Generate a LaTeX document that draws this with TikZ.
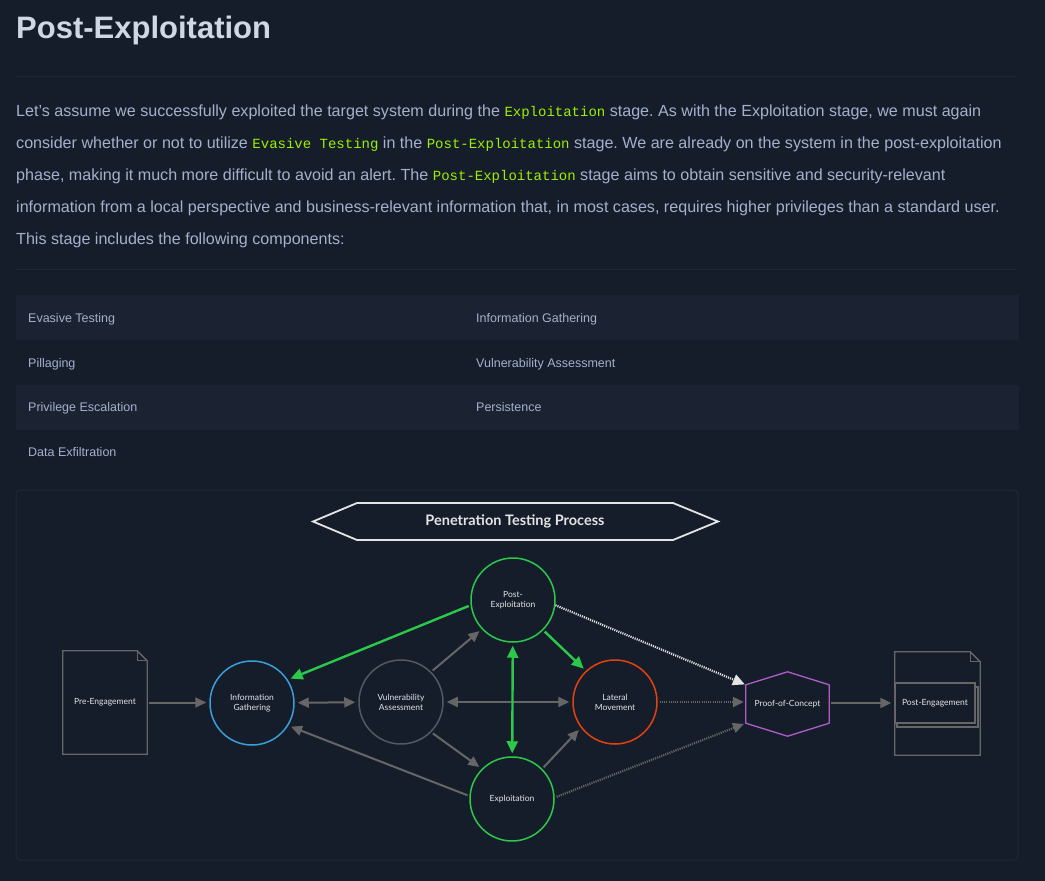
\documentclass[tikz,border=0pt]{standalone}
\usepackage{fontspec}
\setmainfont{Liberation Sans}
\newfontfamily\monof{Liberation Mono}
\newfontfamily\dgf{Lato}
\usetikzlibrary{arrows.meta,calc}
\definecolor{bg}{HTML}{151D2B}
\definecolor{rowbg}{HTML}{1B2332}
\definecolor{rulec}{HTML}{1F2838}
\definecolor{txt}{HTML}{A4B1CD}
\definecolor{ttl}{HTML}{D0D7E4}
\definecolor{codeg}{HTML}{9FEF00}
\definecolor{grn}{HTML}{2BC84A}
\definecolor{blu}{HTML}{3A9FD6}
\definecolor{gry}{HTML}{666666}
\definecolor{gryc}{HTML}{55595F}
\definecolor{org}{HTML}{E2420F}
\definecolor{pur}{HTML}{B25CC9}
\definecolor{wht}{HTML}{E4E4E4}
\newcommand{\cd}[1]{{\monof\fontsize{14}{18}\selectfont\color{codeg}#1}}
\frenchspacing
\begin{document}
\begin{tikzpicture}[x=1pt,y=-1pt,
  par/.style={anchor=base west,inner sep=0,text=txt,font=\fontsize{16.1}{18}\selectfont},
  cell/.style={anchor=base west,inner sep=0,text=txt,font=\fontsize{12.5}{15}\selectfont},
  lab/.style={text=wht,font=\dgf\fontsize{8.5}{10}\selectfont,align=center,inner sep=0},
  circ/.style={lab,circle,draw,line width=1.5pt,minimum size=84pt},
  ga/.style={draw=gry,line width=2pt,-{Triangle[length=11pt,width=10pt]},shorten >=3pt,shorten <=2pt},
  gaa/.style={draw=gry,line width=2pt,{Triangle[length=11pt,width=10pt]}-{Triangle[length=11pt,width=10pt]},shorten >=3pt,shorten <=3pt},
  gn/.style={draw=grn,line width=2.4pt,-{Triangle[length=12pt,width=11pt]},shorten >=3pt,shorten <=2pt},
  gnn/.style={draw=grn,line width=2.4pt,{Triangle[length=12pt,width=11pt]}-{Triangle[length=12pt,width=11pt]},shorten >=3pt,shorten <=3pt},
  wd/.style={draw=wht,line width=2.2pt,dash pattern=on 1.1pt off 1.1pt,-{Triangle[length=12pt,width=11pt]},shorten >=1pt},
  gd/.style={draw=gry,line width=2.2pt,dash pattern=on 1.1pt off 1.1pt,-{Triangle[length=11pt,width=10pt]},shorten >=2pt,shorten <=2pt},
  docline/.style={draw=gry,line width=1.3pt}
]
\fill[bg] (0,0) rectangle (1045,881);
\useasboundingbox (0,0) rectangle (1045,881);

% title
\node[anchor=base west,inner sep=0,text=ttl,font=\bfseries\fontsize{31}{36}\selectfont] (title) at (16,38) {Post-Exploitation};
\draw[rulec,line width=1pt] (16,76) -- (1017,76);

% paragraph
\node[par] (l1) at (16,116) {Let's assume we successfully exploited the target system during the \cd{Exploitation} stage. As with the Exploitation stage, we must again};
\node[par] (l2) at (16,148) {consider whether or not to utilize \cd{Evasive Testing} in the \cd{Post-Exploitation} stage. We are already on the system in the post-exploitation};
\node[par] (l3) at (16,180) {phase, making it much more difficult to avoid an alert. The \cd{Post-Exploitation} stage aims to obtain sensitive and security-relevant};
\node[par] (l4) at (16,212) {information from a local perspective and business-relevant information that, in most cases, requires higher privileges than a standard user.};
\node[par] (l5) at (16,244) {This stage includes the following components:};
\draw[rulec,line width=1pt] (16,269) -- (1017,269);

% table
\fill[rowbg] (16,295) rectangle (1019,340);
\fill[rowbg] (16,385) rectangle (1019,430);
\node[cell] (c11) at (28,322.5) {Evasive Testing};
\node[cell] (c12) at (476,322.5) {Information Gathering};
\node[cell] (c21) at (28,367.5) {Pillaging};
\node[cell] (c22) at (476,367.5) {Vulnerability Assessment};
\node[cell] (c31) at (28,411.5) {Privilege Escalation};
\node[cell] (c32) at (476,411.5) {Persistence};
\node[cell] (c41) at (28,456.5) {Data Exfiltration};

% diagram frame
\draw[rulec,line width=1pt,rounded corners=4pt] (16,490) rectangle (1018,860);

% banner
\draw[wht,line width=1.8pt,line join=miter] (313,521.5) -- (357,503) -- (673,503) -- (718,521.5) -- (673,540) -- (357,540) -- cycle;
\node[text=wht,font=\dgf\bfseries\fontsize{14.5}{16}\selectfont,inner sep=0] (banner) at (515,521.5) {Penetration Testing Process};

% circles
\node[circ,draw=grn] (post) at (513,600) {Post-\\Exploitation};
\node[circ,draw=blu] (ig) at (252,703) {Information\\Gathering};
\node[circ,draw=gryc] (va) at (401,702) {Vulnerability\\Assessment};
\node[circ,draw=org] (lm) at (615,702) {Lateral\\Movement};
\node[circ,draw=grn] (ex) at (512,799) {Exploitation};

% proof of concept
\node[lab,minimum width=83pt,minimum height=38pt] (poc) at (787.5,704) {Proof-of-Concept};
\draw[pur,line width=1.3pt,line join=round] (poc.north west) -- ($(poc.north)+(0,-13)$) -- (poc.north east) -- (poc.south east) -- ($(poc.south)+(0,13)$) -- (poc.south west) -- cycle;

% pre-engagement document
\node[lab,minimum width=84pt,minimum height=103pt] (pre) at (105,702.5) {Pre-Engagement};
\draw[docline] (pre.south west) -- (pre.north west) -- ($(pre.north east)+(-10,0)$) -- ($(pre.north east)+(0,10)$) -- (pre.south east) -- cycle;
\draw[docline] ($(pre.north east)+(-10,0)$) -- ($(pre.north east)+(-10,10)$) -- ($(pre.north east)+(0,10)$);

% post-engagement document
\node[minimum width=85pt,minimum height=103pt,inner sep=0] (pdoc) at (937.5,703.5) {};
\draw[docline] (pdoc.south west) -- (pdoc.north west) -- ($(pdoc.north east)+(-10,0)$) -- ($(pdoc.north east)+(0,10)$) -- (pdoc.south east) -- cycle;
\draw[docline] ($(pdoc.north east)+(-10,0)$) -- ($(pdoc.north east)+(-10,10)$) -- ($(pdoc.north east)+(0,10)$);
\draw[docline] (897,687) rectangle (978,727);
\node[lab,draw=gry,line width=1.3pt,fill=bg,minimum width=80pt,minimum height=40pt] (poste) at (935,703) {Post-Engagement};

% gray arrows
\draw[ga] (pre.east) -- (pre.east -| ig.west);
\draw[gaa] (ig) -- (va);
\draw[ga] (va.45) -- (post.223);
\draw[ga] (va.-45) -- (ex.135);
\draw[gaa] (va) -- (lm);
\draw[ga] (ex.176) -- (ig.-32);
\draw[ga] (ex.45) -- (lm.-143);
\draw[ga] (poste.west -| poc.east) -- (poste.west);

% green arrows
\draw[gn] (post.187) -- (ig.33);
\draw[gn] (post.-45) -- (lm.133);
\draw[gnn] (post) -- (ex);

% dotted arrows
\draw[wd] (post.-7) -- (poc.north west);
\draw[gd] (lm.east) -- (lm.east -| poc.west);
\draw[gd] (ex.2) -- (poc.south west);
\end{tikzpicture}
\end{document}
